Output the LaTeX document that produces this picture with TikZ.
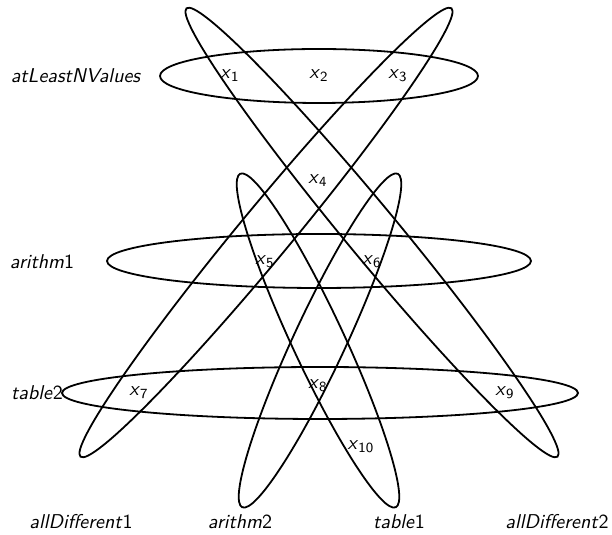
\documentclass[tikz,border=0pt]{standalone}
\usetikzlibrary{positioning}
\renewcommand{\familydefault}{\sfdefault}
\newcommand{\cname}[2]{\textit{#1}#2}
\newcommand{\xvar}[1]{\textit{x}\textsubscript{#1}}

\begin{document}
\begin{tikzpicture}[x=0.5pt, y=0.5pt,
  hedge/.style={line width=0.9pt, black},
  var/.style={font=\sffamily, inner sep=0pt},
  cons/.style={font=\sffamily, inner sep=0pt}]

  \useasboundingbox (0,0) rectangle (612,535);

  % horizontal constraints
  \draw[hedge] (319,459) ellipse [x radius=159, y radius=27];
  \draw[hedge] (319,274) ellipse [x radius=212, y radius=27];
  \draw[hedge] (320,142) ellipse [x radius=258, y radius=26];

  % slanted constraints
  \draw[hedge, shift={(266,302.5)}, rotate=50.4] (0,0) ellipse [x radius=291, y radius=26];
  \draw[hedge, shift={(372,302.5)}, rotate=129.6] (0,0) ellipse [x radius=291, y radius=26];
  \draw[hedge, shift={(318,194.5)}, rotate=115] (0,0) ellipse [x radius=184, y radius=26];
  \draw[hedge, shift={(320,194.5)}, rotate=65] (0,0) ellipse [x radius=184, y radius=26];

  % variables
  \node[var] (x1) at (230,459) {\xvar{1}};
  \node[var] (x2) at (319,459) {\xvar{2}};
  \node[var] (x3) at (398,459) {\xvar{3}};
  \node[var] (x4) at (318,354) {\xvar{4}};
  \node[var] (x5) at (265,273) {\xvar{5}};
  \node[var] (x6) at (372,273) {\xvar{6}};
  \node[var] (x7) at (139,142) {\xvar{7}};
  \node[var] (x8) at (318,149) {\xvar{8}};
  \node[var] (x9) at (505,142) {\xvar{9}};
  \node[var] (x10) at (361,88) {\xvar{10}};

  % constraint names
  \node[cons] (alnv) at (76,459) {\cname{atLeastNValues}{}};
  \node[cons] (ar1) at (42,273) {\cname{arithm}{1}};
  \node[cons] (tb2) at (37,142) {\cname{table}{2}};
  \node[cons] (ad1) at (81,13) {\cname{allDifferent}{1}};
  \node[cons] (ar2) at (240,13) {\cname{arithm}{2}};
  \node[cons] (tb1) at (399,13) {\cname{table}{1}};
  \node[cons] (ad2) at (557,13) {\cname{allDifferent}{2}};

\end{tikzpicture}
\end{document}
